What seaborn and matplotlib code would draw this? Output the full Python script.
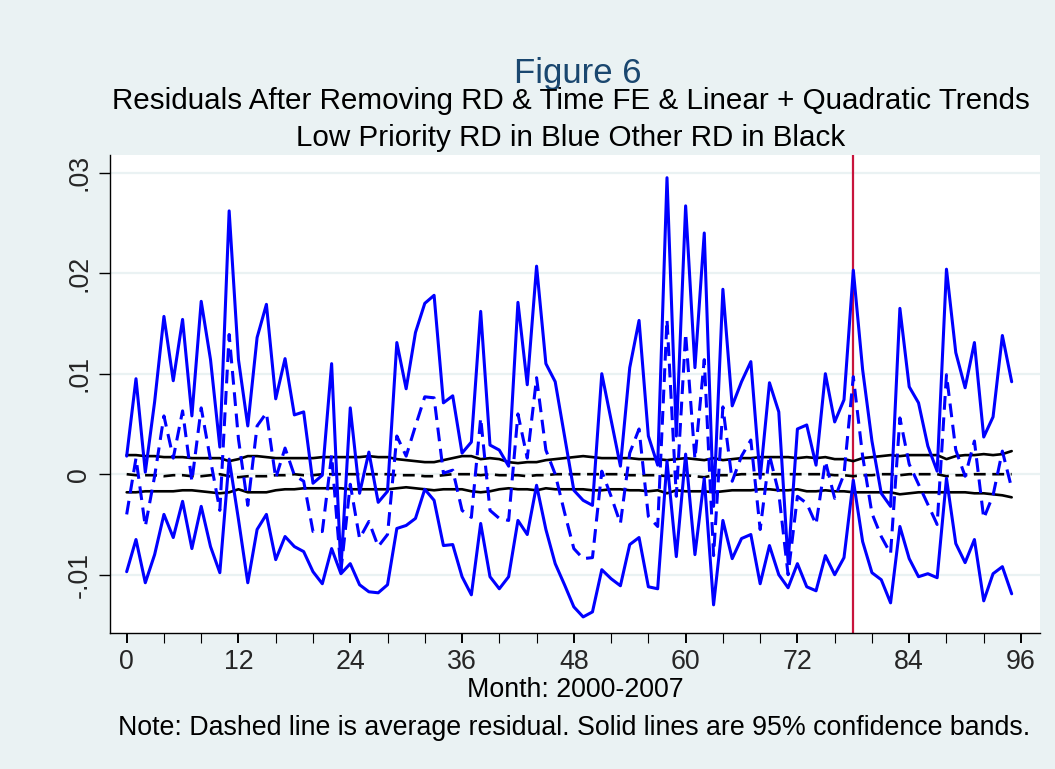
import numpy as np
import pandas as pd
import matplotlib
matplotlib.use("Agg")
import matplotlib.pyplot as plt
from matplotlib.ticker import MultipleLocator, FixedLocator
import seaborn as sns

# ---------------- data (values in units of 0.001) ----------------
months = list(range(96))

low_upper = [1.8, 9.5, 0.2, 7.2, 15.7, 9.3, 15.4, 5.8, 17.2, 11.4, 2.7, 26.2,
             11.4, 4.8, 13.6, 16.9, 7.5, 11.5, 5.9, 6.2, -0.9, -0.1, 11.0, -9.4,
             6.6, -1.9, 2.2, -2.8, -1.7, 13.1, 8.5, 14.1, 17.0, 17.8, 7.1, 7.8,
             2.1, 3.2, 16.2, 2.9, 2.4, 0.8, 17.1, 8.9, 20.7, 11.0, 9.2, 3.8,
             -1.6, -2.6, -3.1, 10.0, 5.4, 0.8, 10.6, 15.3, 3.8, 0.9, 29.5, 3.8,
             26.7, 10.6, 24.0, -3.2, 18.4, 6.8, 9.2, 11.2, -0.4, 9.1, 6.2, -8.8,
             4.5, 4.9, 0.9, 10.0, 5.2, 7.4, 20.3, 10.4, 3.3, -1.9, -3.2, 16.5,
             8.7, 7.1, 2.8, 0.3, 20.4, 12.1, 8.6, 13.1, 3.7, 5.7, 13.8, 9.2]

low_mean = [-4.0, 1.6, -5.2, -0.2, 5.8, 1.6, 6.3, -0.7, 6.6, 1.4, -3.6, 13.9,
            3.5, -3.1, 4.8, 6.1, -0.4, 2.6, -0.1, -0.7, -5.7, -5.7, 1.9, -9.6,
            -1.0, -6.4, -4.7, -7.2, -6.0, 3.8, 1.8, 4.8, 7.7, 7.6, 0.1, 0.4,
            -3.6, -4.3, 5.6, -3.6, -4.4, -4.6, 6.0, 1.6, 9.6, 2.4, 0.0, -3.8,
            -7.4, -8.4, -8.3, 0.3, -2.2, -4.9, 2.1, 4.5, -4.2, -5.2, 15.4, -2.2,
            14.0, 1.5, 11.4, -8.1, 6.7, -0.7, 1.8, 3.4, -5.5, 1.9, -1.9, -10.0,
            -2.2, -2.9, -5.0, 1.3, -2.4, 0.0, 9.7, 1.8, -3.9, -6.2, -7.9, 5.6,
            1.0, -1.0, -3.0, -5.0, 9.9, 2.4, -0.2, 3.3, -4.4, -2.1, 2.3, -1.4]

low_lower = [-9.7, -6.5, -10.8, -8.0, -4.0, -6.3, -2.7, -7.4, -3.2, -7.2, -9.8, 1.5,
             -4.5, -10.8, -5.5, -4.0, -8.5, -6.2, -7.2, -7.7, -9.7, -10.9, -7.4, -9.9,
             -8.9, -11.0, -11.7, -11.8, -11.0, -5.4, -5.1, -4.4, -1.5, -2.6, -7.1, -7.0,
             -10.2, -12.0, -4.9, -10.2, -11.4, -10.2, -4.6, -6.0, -1.1, -5.5, -8.9, -11.0,
             -13.2, -14.2, -13.7, -9.5, -10.4, -11.1, -7.0, -6.3, -11.2, -11.4, 1.3, -8.2,
             2.0, -8.0, -0.4, -13.0, -4.6, -8.4, -6.4, -6.0, -10.9, -7.1, -10.0, -11.3,
             -8.9, -11.2, -11.6, -8.1, -10.0, -8.3, -0.6, -6.7, -9.8, -10.5, -12.8, -5.2,
             -8.4, -10.2, -9.9, -10.3, -0.4, -6.9, -8.8, -6.5, -12.6, -9.9, -9.2, -11.9]

oth_upper = [1.9, 1.9, 1.8, 1.8, 1.7, 1.7, 1.7, 1.6, 1.6, 1.6, 1.6, 1.3,
             1.5, 1.8, 1.8, 1.7, 1.6, 1.6, 1.6, 1.6, 1.6, 1.7, 1.7, 1.7,
             1.7, 1.7, 1.8, 1.7, 1.7, 1.5, 1.4, 1.3, 1.2, 1.2, 1.4, 1.6,
             1.8, 1.8, 1.5, 1.6, 1.5, 1.2, 1.1, 1.2, 1.2, 1.4, 1.5, 1.6,
             1.7, 1.8, 1.7, 1.6, 1.6, 1.6, 1.6, 1.5, 1.5, 1.5, 1.4, 1.5,
             1.6, 1.5, 1.4, 1.6, 1.4, 1.5, 1.6, 1.6, 1.7, 1.7, 1.7, 1.7,
             1.6, 1.7, 1.6, 1.7, 1.5, 1.5, 1.3, 1.6, 1.7, 1.8, 1.9, 1.8,
             1.9, 1.9, 1.9, 1.9, 1.5, 1.8, 1.9, 1.9, 2.0, 1.9, 2.0, 2.3]

oth_mean = [0.0, -0.1, -0.1, -0.1, -0.2, -0.1, -0.1, -0.2, -0.2, -0.1, 0.0, -0.2,
            -0.3, -0.2, -0.2, -0.2, -0.1, -0.1, 0.0, -0.1, -0.1, 0.0, 0.0, 0.0,
            0.0, 0.0, 0.0, 0.0, 0.0, -0.1, -0.1, -0.1, -0.2, -0.2, -0.1, 0.0,
            0.0, 0.0, -0.1, 0.0, -0.1, -0.1, -0.1, -0.2, -0.1, -0.1, 0.0, 0.0,
            0.0, 0.0, 0.0, 0.0, 0.0, 0.0, -0.1, -0.1, -0.1, -0.1, -0.2, -0.1,
            -0.1, -0.2, -0.3, -0.1, -0.1, -0.1, 0.0, 0.0, 0.0, 0.0, 0.0, 0.0,
            0.0, 0.0, 0.0, 0.0, -0.1, -0.1, -0.2, -0.1, -0.1, 0.0, 0.0, -0.1,
            0.0, 0.0, 0.0, 0.0, -0.2, -0.1, -0.1, 0.0, 0.0, 0.0, 0.0, 0.0]

oth_lower = [-1.8, -1.8, -1.7, -1.7, -1.7, -1.7, -1.6, -1.6, -1.7, -1.8, -1.9, -1.8,
             -1.5, -1.8, -1.8, -1.8, -1.6, -1.5, -1.5, -1.4, -1.4, -1.4, -1.4, -1.4,
             -1.5, -1.5, -1.5, -1.5, -1.5, -1.4, -1.3, -1.4, -1.5, -1.6, -1.5, -1.5,
             -1.5, -1.7, -1.8, -1.7, -1.5, -1.4, -1.5, -1.5, -1.6, -1.4, -1.5, -1.5,
             -1.5, -1.5, -1.6, -1.6, -1.5, -1.5, -1.6, -1.6, -1.7, -1.6, -1.9, -1.6,
             -1.7, -1.7, -1.7, -1.8, -1.7, -1.6, -1.6, -1.6, -1.5, -1.5, -1.6, -1.6,
             -1.5, -1.7, -1.7, -1.6, -1.7, -1.7, -1.8, -1.8, -1.8, -1.8, -1.8, -2.0,
             -1.9, -1.8, -1.8, -1.8, -1.8, -1.8, -1.8, -1.9, -1.9, -2.0, -2.1, -2.3]

event_month = 78
x_ticks = [0, 12, 24, 36, 48, 60, 72, 84, 96]
y_ticks = [-0.01, 0.0, 0.01, 0.02, 0.03]
y_tick_labels = ["-.01", "0", ".01", ".02", ".03"]

title = "Figure 6"
subtitle1 = "Residuals After Removing RD & Time FE & Linear + Quadratic Trends"
subtitle2 = "Low Priority RD in Blue Other RD in Black"
xlabel = "Month: 2000-2007"
note = "Note: Dashed line is average residual. Solid lines are 95% confidence bands."

# ---------------- styling ----------------
sns.set_style("white")
plt.rcParams["font.family"] = ["Liberation Sans", "DejaVu Sans"]

BG = "#EAF2F3"
BLUE = "#0000FF"
RED = "#C8143C"
NAVY = "#1A476F"

W, H = 1055, 769
fig = plt.figure(figsize=(W / 100, H / 100), dpi=100, facecolor=BG)
L, R, T, B = 110, 1040, 155, 632.7
ax = fig.add_axes([L / W, 1 - B / H, (R - L) / W, (B - T) / H])
ax.set_facecolor("white")

df = pd.DataFrame({
    "month": months,
    "low_upper": np.array(low_upper) / 1000,
    "low_mean": np.array(low_mean) / 1000,
    "low_lower": np.array(low_lower) / 1000,
    "oth_upper": np.array(oth_upper) / 1000,
    "oth_mean": np.array(oth_mean) / 1000,
    "oth_lower": np.array(oth_lower) / 1000,
})

# grid
for yv in y_ticks:
    ax.axhline(yv, color=BG, linewidth=1.6, zorder=0)

ax.axvline(event_month, color=RED, linewidth=1.6, zorder=1)

LW_B = 2.2
LW_K = 1.9
DASH = (4.5, 2.5)


def draw(col, color, lw, dashed, z):
    sns.lineplot(data=df, x="month", y=col, ax=ax, color=color, zorder=z)
    ln = ax.lines[-1]
    ln.set_linewidth(lw)
    ln.set_solid_joinstyle("round")
    ln.set_dash_joinstyle("round")
    if dashed:
        ln.set_dashes(DASH)


draw("oth_upper", "black", LW_K, False, 2)
draw("oth_lower", "black", LW_K, False, 2)
draw("oth_mean", "black", LW_K, True, 2)
draw("low_upper", BLUE, LW_B, False, 3)
draw("low_lower", BLUE, LW_B, False, 3)
draw("low_mean", BLUE, LW_B, True, 3)

# limits
ax.set_xlim(-1.79, 98.04)
ax.set_ylim(-0.01577, 0.03176)

ax.xaxis.set_major_locator(FixedLocator(x_ticks))
ax.xaxis.set_minor_locator(MultipleLocator(4))
ax.set_yticks(y_ticks)
ax.set_yticklabels(y_tick_labels)
ax.set_xticklabels([str(v) for v in x_ticks])

for s in ["top", "right"]:
    ax.spines[s].set_visible(False)
for s in ["left", "bottom"]:
    ax.spines[s].set_color("black")
    ax.spines[s].set_linewidth(1.0)

ax.tick_params(axis="x", which="major", direction="out", length=7.5, width=1.4,
               color="black", labelsize=19.3, pad=4, bottom=True)
ax.tick_params(axis="x", which="minor", direction="out", length=7.5, width=0.8,
               color="black", bottom=True)
ax.tick_params(axis="y", which="major", direction="out", length=7.7, width=1.0,
               color="black", labelsize=19.3, pad=5, left=True, labelrotation=90)
for lab in ax.get_yticklabels():
    lab.set_va("center")

ax.set_xlabel("")
ax.set_ylabel("")

# texts
fig.text(578 / W, 1 - 83 / H, title, ha="center", va="baseline", fontsize=25, color=NAVY)
fig.text(571 / W, 1 - 101 / H, subtitle1, ha="center", va="center", fontsize=21.3, color="black")
fig.text(571 / W, 1 - 138 / H, subtitle2, ha="center", va="center", fontsize=21.3, color="black")
fig.text(575 / W, 1 - 690 / H, xlabel, ha="center", va="center", fontsize=19.3, color="black")
fig.text(574 / W, 1 - 728 / H, note, ha="center", va="center", fontsize=19.3, color="black")

fig.savefig("out.png", dpi=100, facecolor=BG)
